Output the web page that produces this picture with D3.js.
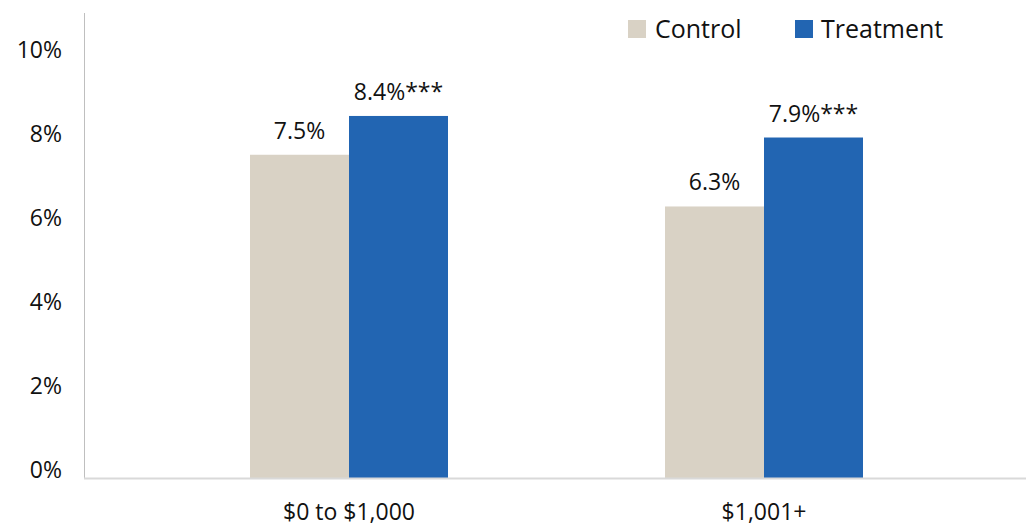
<!DOCTYPE html>
<html>
<head>
<meta charset="utf-8">
<script src="https://cdn.jsdelivr.net/npm/d3@7/dist/d3.min.js"></script>
<style>
  html, body { margin: 0; padding: 0; background: #fff; }
  svg text { font-family: "Open Sans", "Noto Sans", sans-serif; }
</style>
</head>
<body>
<svg id="chart" width="1026" height="527"></svg>
<script>
// Share of accounts by balance group, control vs. treatment
const categories = ["$0 to $1,000", "$1,001+"];
const seriesNames = ["Control", "Treatment"];
const controlValues = [7.5, 6.3];
const treatmentValues = [8.4, 7.9];
const valueLabels = [["7.5%", "8.4%***"], ["6.3%", "7.9%***"]];
const yTicks = [0, 2, 4, 6, 8, 10];
const colors = { Control: "#d9d2c5", Treatment: "#2265b2" };

const svg = d3.select("#chart");

const axisLeft = 84, axisRight = 1026;
const y = d3.scaleLinear().domain([0, 10]).range([478, 47]);

const x0 = d3.scaleBand().domain(categories).range([141.5, 971.5]).paddingInner(0).paddingOuter(0);
const x1 = d3.scaleBand().domain(seriesNames).range([0, 198]);
const groupOffset = (x0.bandwidth() - x1.range()[1]) / 2;

const rows = categories.map((c, i) => ({
  category: c,
  values: [
    { series: "Control", value: controlValues[i], label: valueLabels[i][0] },
    { series: "Treatment", value: treatmentValues[i], label: valueLabels[i][1] }
  ]
}));

// y axis: labels only, plus a plain vertical rule
const yAxis = d3.axisLeft(y).tickValues(yTicks).tickFormat(d => d + "%").tickSize(0).tickPadding(22);
const gy = svg.append("g").attr("transform", `translate(${axisLeft},0)`).call(yAxis);
gy.select(".domain").remove();
gy.selectAll("text")
  .attr("font-size", 23)
  .attr("fill", "#111")
  .attr("dy", (d) => (0.36 + (-9 + d * 1.1) / 23) + "em");
svg.append("line")
  .attr("x1", axisLeft + 0.5).attr("x2", axisLeft + 0.5)
  .attr("y1", 13).attr("y2", y(0))
  .attr("stroke", "#bfbfbf").attr("stroke-width", 1);

// bars
const groups = svg.selectAll("g.group").data(rows).join("g")
  .attr("class", "group")
  .attr("transform", d => `translate(${x0(d.category) + groupOffset},0)`);

groups.selectAll("rect").data(d => d.values).join("rect")
  .attr("x", d => x1(d.series))
  .attr("width", x1.bandwidth())
  .attr("y", d => y(d.value))
  .attr("height", d => y(0) - y(d.value))
  .attr("fill", d => colors[d.series]);

groups.selectAll("text.value").data(d => d.values).join("text")
  .attr("class", "value")
  .attr("x", d => x1(d.series) + x1.bandwidth() / 2)
  .attr("y", d => y(d.value) - 16)
  .attr("text-anchor", "middle")
  .attr("font-size", 23)
  .attr("fill", "#111")
  .text(d => d.label);

// x axis baseline and category labels
svg.append("line")
  .attr("x1", axisLeft).attr("x2", axisRight)
  .attr("y1", y(0) + 0.5).attr("y2", y(0) + 0.5)
  .attr("stroke", "#d9d9d9").attr("stroke-width", 2);

const xAxis = d3.axisBottom(x0).tickSize(0).tickPadding(0);
const gx = svg.append("g").attr("transform", `translate(0,${y(0)})`).call(xAxis);
gx.select(".domain").remove();
gx.selectAll("text")
  .attr("font-size", 23)
  .attr("fill", "#111")
  .attr("dy", null)
  .attr("y", 42);

// legend
const legend = svg.append("g");
const legendItems = [
  { name: "Control", sx: 628, tx: 655 },
  { name: "Treatment", sx: 795, tx: 821 }
];
legendItems.forEach(it => {
  legend.append("rect").attr("x", it.sx).attr("y", 20).attr("width", 18).attr("height", 18).attr("fill", colors[it.name]);
  legend.append("text").attr("x", it.tx).attr("y", 38).attr("font-size", 25).attr("fill", "#111").text(it.name);
});
</script>
</body>
</html>
